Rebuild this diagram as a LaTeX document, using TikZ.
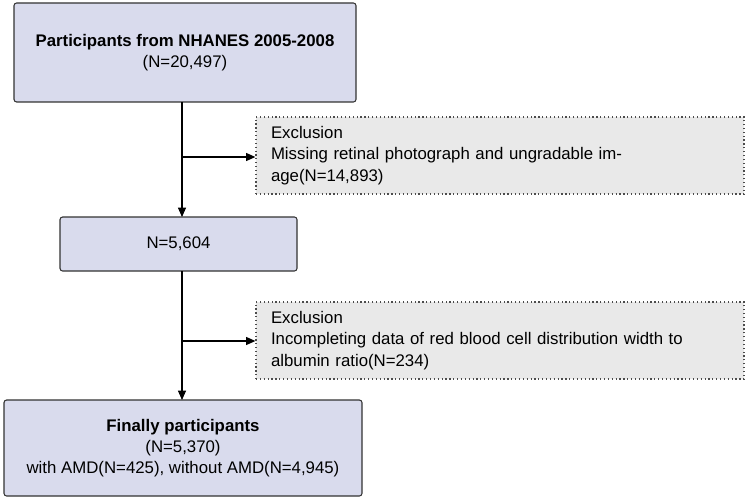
\documentclass[tikz,border=0pt]{standalone}
\usepackage{fontspec}
\setmainfont{Liberation Sans}
\usetikzlibrary{arrows.meta}
\definecolor{lav}{RGB}{217,219,237}
\definecolor{exg}{RGB}{233,233,233}
\tikzset{
 mainbox/.style={draw=black!80,fill=lav,rounded corners=2pt,line width=0.8pt,align=center,font=\fontsize{12.6}{15.5}\selectfont},
 exbox/.style={draw=black!70,fill=exg,dotted,line width=0.9pt,align=left,font=\fontsize{12.6}{16}\selectfont},
 arr/.style={-{Triangle[length=7pt,width=6pt]},line width=0.8pt}
}
\begin{document}
\begin{tikzpicture}[x=0.75pt,y=-0.75pt]
\useasboundingbox (0,0) rectangle (745,499);
\node[mainbox,minimum width=342*0.75pt,minimum height=99*0.75pt] (b1) at (185,52.5) {\textbf{Participants from NHANES 2005-2008}\\(N=20,497)};
\node[mainbox,minimum width=237*0.75pt,minimum height=54*0.75pt] (b2) at (178.5,244) {N=5,604};
\node[mainbox,minimum width=358*0.75pt,minimum height=96*0.75pt] (b3) at (183,448) {\textbf{Finally participants}\\(N=5,370)\\with AMD(N=425), without AMD(N=4,945)};
\node[exbox,minimum width=476*0.75pt,minimum height=77*0.75pt,text width=458*0.75pt,inner xsep=15*0.75pt] (e1) at (500,155.5) {Exclusion\\Missing retinal photograph and ungradable image(N=14,893)};
\node[exbox,minimum width=476*0.75pt,minimum height=77*0.75pt,text width=458*0.75pt,inner xsep=15*0.75pt] (e2) at (500,340.5) {Exclusion\\Incompleting data of red blood cell distribution width to\\albumin ratio(N=234)};
\coordinate (t1) at (182,102);
\coordinate (t2) at (182,217);
\coordinate (s1) at (182,157);
\coordinate (t3) at (182,271);
\coordinate (t4) at (182,400);
\coordinate (s2) at (182,341);
\draw[arr] (t1) -- (t2);
\draw[arr] (s1) -- (e1.west|-s1);
\draw[arr] (t3) -- (t4);
\draw[arr] (s2) -- (e2.west|-s2);
\end{tikzpicture}
\end{document}
